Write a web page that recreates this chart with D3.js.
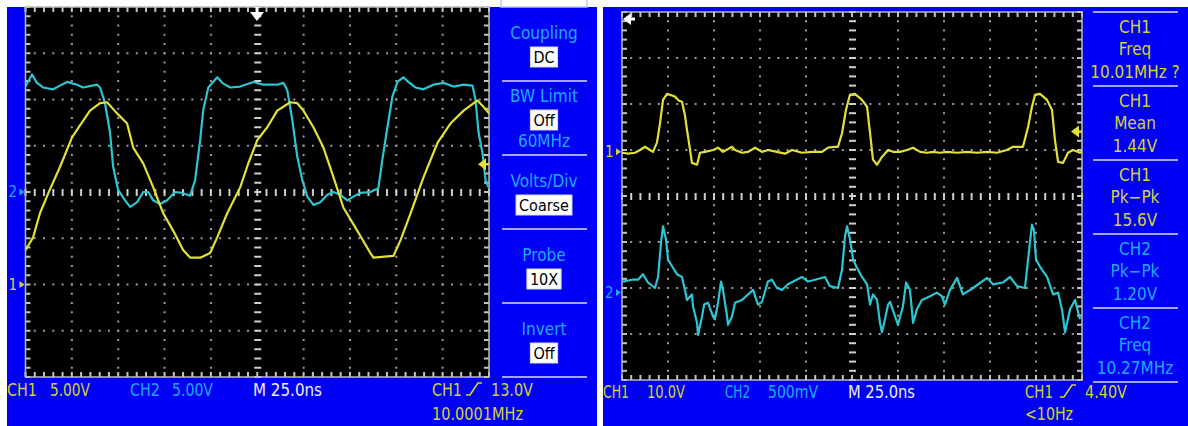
<!DOCTYPE html>
<html>
<head>
<meta charset="utf-8">
<script src="https://cdn.jsdelivr.net/npm/d3@7"></script>
<style>
  html, body { margin: 0; padding: 0; background: #fff; }
  svg { display: block; }
  text { font-family: "Liberation Sans Narrow", "Arial Narrow", "DejaVu Sans Condensed", sans-serif; }
</style>
</head>
<body>
<script>
// ---- data (time in ns, voltage in V) ----

// left screen, M 25.0ns, CH1 5.00V, CH2 5.00V
const leftCh1 = [[0,3.7],[4.1,5.1],[7.8,7.7],[13,10.2],[18.6,12.7],[25.1,15.9],[29.4,17.2],[34.8,18.8],[40.2,19.6],[44.0,19.7],[49.4,18.5],[54.8,17.4],[58.1,14.8],[63.5,13.1],[68.9,10.5],[74.3,7.7],[79.7,5.8],[85.1,3.7],[88.9,2.9],[94.3,2.9],[99.6,3.4],[103.4,5.1],[108.8,7.7],[115.8,10.5],[120,13.0],[125.0,15.6],[130.4,17.0],[135.8,18.8],[142.8,19.7],[146.6,19.6],[149.9,18.8],[155.3,17.0],[160.7,14.8],[166.1,11.6],[171.5,8.3],[179.0,5.8],[186.0,3.4],[187.7,2.9],[198.5,3.1],[202.3,4.8],[207.7,7.7],[214.7,11.6],[222.2,15.3],[229.2,17.4],[236.3,18.8],[243.8,19.9],[247.1,19.2],[250,18.5]];
const leftCh2 = [[0,11.4],[3.5,12.7],[6.2,11.8],[9.5,11.3],[14.9,11.1],[18.6,11.5],[22.4,11.9],[27.8,11.6],[31.1,11.3],[38.6,11.6],[40.2,11.3],[42.9,9.6],[45.6,6.4],[47.3,2.7],[50.0,0.2],[53.7,-0.9],[56.4,-1.6],[60.2,-1.1],[63.5,0],[66.2,0],[68.9,-0.9],[72.6,-1.3],[76.4,-0.9],[80.7,0],[84.5,-0.1],[88.8,-0.4],[91.5,1.3],[94.2,5.6],[95.9,8.9],[98.6,11.3],[103.4,12.4],[106.1,11.8],[110.4,11.3],[115.8,11.4],[122.9,11.9],[128.3,11.6],[135.8,11.6],[139.1,11.8],[141.2,11.0],[143.9,7.8],[146.6,3.8],[149.3,1.3],[152.0,-0.5],[155.3,-1.4],[159.0,-1.1],[162.8,-0.3],[166.0,0],[169.8,-0.3],[173.6,-0.9],[176.8,-0.5],[180.6,-0.1],[186.0,0],[190.3,0.4],[192.5,3.5],[195.2,7.0],[197.9,10.3],[200.6,11.9],[203.8,12.4],[206.5,11.9],[210.3,11.3],[214.6,11.1],[220.0,11.6],[225.5,11.8],[230.9,11.4],[236.3,11.6],[241.1,11.5],[242.7,10.0],[244.4,6.4],[246.5,4.2],[248.1,1.3],[249.8,0.5]];

// right screen, M 25.0ns, CH1 10.0V, CH2 500mV
const rightCh1 = [[0,-0.2],[3.3,-0.4],[7.1,-0.2],[9.8,0.4],[12.5,1.1],[15.2,0.4],[16.8,0],[19.0,2.0],[20.7,6.3],[22.3,11.3],[24.5,12.6],[26.1,12.4],[28.8,12.0],[31.0,11.1],[32.6,10.9],[34.2,8.0],[35.3,4.8],[37.0,0.4],[38.0,-2.4],[40.8,-2.8],[42.4,-0.2],[45.1,0],[49.5,0.4],[52.2,0.9],[54.9,0],[59.8,1.1],[61.4,0.4],[65.2,-0.2],[68.5,0],[72.3,0.9],[76.1,0],[79.3,0.4],[84.2,0],[88.6,-0.4],[92.4,0.4],[97.8,-0.2],[103.3,0],[108.7,0],[112.0,0.9],[115.8,1.1],[117.4,1.1],[119.6,4.1],[121.7,9.1],[123.9,12.4],[126.6,12.6],[130.4,11.3],[133.2,9.8],[134.8,4.1],[136.4,-1.7],[138.6,-2.8],[141.3,-1.1],[144.6,0.4],[147.3,0],[151.1,0],[154.9,0.4],[158.2,0.9],[162.0,0],[165.8,-0.2],[169.0,0],[172.8,-0.2],[176.6,0],[182.1,-0.2],[187.5,0],[192.9,-0.2],[198.4,0],[203.8,-0.2],[209.2,0.4],[212.5,1.1],[216.3,1.1],[217.9,1.1],[220.7,5.4],[222.8,9.8],[224.5,12.4],[227.2,12.6],[231.0,11.3],[233.7,9.1],[235.3,2.6],[237.0,-2.2],[239.7,-2.4],[242.4,-0.2],[245.1,0.4],[248.9,-0.2],[250,0]];
const rightCh2 = [[0.5,0.12],[5.4,0.14],[8.7,0.14],[11.4,0.20],[14.1,0.11],[17.9,0.05],[19.6,0.17],[21.2,0.54],[22.3,0.72],[23.9,0.58],[25.0,0.36],[27.7,0.27],[29.9,0.20],[32.6,0.17],[34.2,0.03],[35.3,-0.08],[38.0,-0.02],[38.6,-0.15],[40.8,-0.33],[41.3,-0.46],[43.5,-0.26],[44.6,-0.13],[46.7,-0.11],[49.5,-0.26],[50.5,-0.29],[52.2,-0.11],[53.8,0.12],[54.9,0.03],[57.1,-0.26],[57.6,-0.35],[59.8,-0.26],[61.4,-0.11],[65.2,-0.08],[69.6,0],[71.2,0.03],[73.9,-0.13],[76.1,-0.10],[79.3,0.12],[81.5,0.14],[84.2,0.05],[87.0,0.03],[90.2,0.09],[97.8,0.17],[101.1,0.12],[104.9,0.14],[110.3,0.17],[113.0,0.07],[117.4,0.05],[119.6,0.25],[121.2,0.61],[122.3,0.72],[123.9,0.58],[125.6,0.36],[127.7,0.27],[130.4,0.17],[133.2,0.09],[134.8,-0.13],[136.4,-0.02],[138.6,-0.08],[140.2,-0.33],[141.3,-0.43],[142.9,-0.29],[144.6,-0.13],[145.7,-0.10],[148.4,-0.26],[150.0,-0.35],[152.7,-0.15],[154.4,0.11],[156.5,0.03],[158.2,-0.33],[160.3,-0.18],[163.0,-0.08],[167.4,-0.04],[171.2,0],[173.9,-0.04],[175.5,-0.13],[178.3,0.03],[182.1,0.16],[185.3,-0.02],[190.8,0.05],[198.4,0.16],[201.6,0.09],[207.1,0.11],[210.9,0.17],[214.7,0.07],[219.0,0.05],[220.7,0.36],[222.8,0.74],[223.9,0.68],[225.0,0.36],[227.2,0.28],[231.0,0.17],[234.3,-0.02],[237.0,0],[239.1,-0.18],[240.8,-0.43],[243.5,-0.18],[246.2,-0.08],[248.9,-0.29]];

const leftTriggerLevel = 13.0;
const rightTriggerLevel = 4.40;

// menu and readout texts
const leftMenuTitles = ['Coupling', 'BW Limit', 'Volts/Div', 'Probe', 'Invert'];
const leftMenuValues = ['DC', 'Off', 'Coarse', '10X', 'Off'];
const leftMenuNotes = ['', '60MHz', '', '', ''];

const rightMeasSources = ['CH1', 'CH1', 'CH1', 'CH2', 'CH2'];
const rightMeasNames = ['Freq', 'Mean', 'Pk\u2212Pk', 'Pk\u2212Pk', 'Freq'];
const rightMeasValues = ['10.01MHz ?', '1.44V', '15.6V', '1.20V', '10.27MHz'];

const leftReadout = ['CH1', '5.00V', 'CH2', '5.00V', 'M 25.0ns', 'CH1', '13.0V', '10.0001MHz'];
const rightReadout = ['CH1', '10.0V', 'CH2', '500mV', 'M 25.0ns', 'CH1', '4.40V', '<10Hz'];

// ---- colours ----
const BLUE = '#0000f4';
const YEL_TXT = '#d6d23a';
const CYA_TXT = '#1eaaff';
const WHT_TXT = '#eeeeee';
const YEL_TR = '#e4e03a';
const CYA_TR = '#2cc6d2';

const svg = d3.select('body').append('svg')
    .attr('width', 1188)
    .attr('height', 426);

function addText(g, x, y, str, color, size, opts) {
    opts = opts || {};
    const t = g.append('text')
        .attr('x', x)
        .attr('y', y)
        .attr('fill', color)
        .attr('font-size', size)
        .text(str);
    if (opts.anchor) t.attr('text-anchor', opts.anchor);
    if (opts.len) t.attr('textLength', opts.len).attr('lengthAdjust', 'spacingAndGlyphs');
    return t;
}

function slope(g, x, base) {
    g.append('path')
        .attr('d', `M${x},${base} h4 l8,-12 h4`)
        .attr('fill', 'none')
        .attr('stroke', YEL_TXT)
        .attr('stroke-width', 1.6);
}

function drawScope(cfg) {
    const g = svg.append('g');
    const [fx, fy, fw, fh] = cfg.frame;
    g.append('rect').attr('x', fx).attr('y', fy).attr('width', fw).attr('height', fh).attr('fill', BLUE);

    const [x0, y0, x1, y1] = cfg.screen;
    g.append('rect').attr('x', x0).attr('y', y0).attr('width', x1 - x0).attr('height', y1 - y0).attr('fill', '#000');

    // graticule: 10 x 8 divisions, 5 minor steps each
    const xDiv = d3.scaleLinear().domain([0, 10]).range([x0, x1]);
    const yDiv = d3.scaleLinear().domain([-4, 4]).range([y1, y0]);
    const xMinor = d3.range(0, 51).map(i => i / 5);
    const yMinor = d3.range(-20, 21).map(i => i / 5);

    const grid = g.append('g');
    d3.range(1, 10).filter(d => d !== 5).forEach(d => {
        grid.selectAll(null).data(yMinor.slice(1, -1)).enter().append('rect')
            .attr('x', xDiv(d) - 1).attr('y', v => yDiv(v) - 1)
            .attr('width', 2).attr('height', 2).attr('fill', '#9c9c9c');
    });
    d3.range(-3, 4).filter(d => d !== 0).forEach(d => {
        grid.selectAll(null).data(xMinor.slice(1, -1)).enter().append('rect')
            .attr('x', v => xDiv(v) - 1).attr('y', yDiv(d) - 1)
            .attr('width', 2).attr('height', 2).attr('fill', '#9c9c9c');
    });

    // centre cross with minor ticks
    grid.selectAll(null).data(yMinor).enter().append('rect')
        .attr('x', xDiv(5) - 3).attr('y', v => yDiv(v) - 1)
        .attr('width', 7).attr('height', 2).attr('fill', '#cfcfcf');
    grid.selectAll(null).data(xMinor).enter().append('rect')
        .attr('x', v => xDiv(v) - 1).attr('y', yDiv(0) - 3)
        .attr('width', 2).attr('height', 7).attr('fill', '#cfcfcf');

    // border ticks
    grid.selectAll(null).data(xMinor).enter().append('rect')
        .attr('x', v => xDiv(v) - 1).attr('y', y0).attr('width', 2).attr('height', 5).attr('fill', '#c4c4c4');
    grid.selectAll(null).data(xMinor).enter().append('rect')
        .attr('x', v => xDiv(v) - 1).attr('y', y1 - 5).attr('width', 2).attr('height', 5).attr('fill', '#c4c4c4');
    grid.selectAll(null).data(yMinor).enter().append('rect')
        .attr('x', x0).attr('y', v => yDiv(v) - 1).attr('width', 5).attr('height', 2).attr('fill', '#c4c4c4');
    grid.selectAll(null).data(yMinor).enter().append('rect')
        .attr('x', x1 - 5).attr('y', v => yDiv(v) - 1).attr('width', 5).attr('height', 2).attr('fill', '#c4c4c4');
    grid.append('rect')
        .attr('x', x0).attr('y', y0).attr('width', x1 - x0).attr('height', y1 - y0)
        .attr('fill', 'none').attr('stroke', '#bdbdbd').attr('stroke-width', 1.5);

    // traces
    const clipId = cfg.id + '-clip';
    g.append('clipPath').attr('id', clipId).append('rect')
        .attr('x', x0).attr('y', y0).attr('width', x1 - x0).attr('height', y1 - y0);

    const xTime = d3.scaleLinear().domain([0, 10 * cfg.nsPerDiv]).range([x0, x1]);

    cfg.channels.forEach(ch => {
        const yV = d3.scaleLinear()
            .domain([(-4 - ch.offset) * ch.vPerDiv, (4 - ch.offset) * ch.vPerDiv])
            .range([y1, y0]);
        ch.scale = yV;

        g.append('path')
            .datum(ch.data)
            .attr('d', d3.line().x(d => xTime(d[0])).y(d => yV(d[1])))
            .attr('fill', 'none')
            .attr('stroke', ch.color)
            .attr('stroke-width', 2.2)
            .attr('stroke-linejoin', 'round')
            .attr('clip-path', `url(#${clipId})`);

        // ground level marker at the left edge
        const gy = yV(0);
        addText(g, x0 - 17, gy + 5, ch.label, ch.textColor, 15);
        g.append('path')
            .attr('d', `M${x0 - 6},${gy - 3.5} L${x0 - 1},${gy} L${x0 - 6},${gy + 3.5} Z`)
            .attr('fill', ch.textColor);
    });

    // trigger level marker on the right edge
    const trigY = cfg.channels.find(c => c.label === '1').scale(cfg.trigger);
    g.append('path')
        .attr('d', `M${x1 - 11},${trigY} L${x1 - 3},${trigY - 6} L${x1 - 3},${trigY + 6} Z`)
        .attr('fill', YEL_TR);
    g.append('rect').attr('x', x1 - 4).attr('y', trigY - 1).attr('width', 4).attr('height', 2).attr('fill', YEL_TR);

    return g;
}

// ---------------- left scope ----------------
const left = drawScope({
    id: 'left',
    frame: [7, 7, 590, 419],
    screen: [25.5, 7, 489, 377],
    nsPerDiv: 25,
    trigger: leftTriggerLevel,
    channels: [
        { label: '2', data: leftCh2, vPerDiv: 5, offset: 0, color: CYA_TR, textColor: CYA_TXT },
        { label: '1', data: leftCh1, vPerDiv: 5, offset: -2, color: YEL_TR, textColor: YEL_TXT }
    ]
});

// trigger position arrow at the top centre
left.append('rect').attr('x', 255.5).attr('y', 7).attr('width', 3).attr('height', 6).attr('fill', '#fff');
left.append('path').attr('d', 'M250,12 L264,12 L257,21 Z').attr('fill', '#fff');

// side menu
left.append('rect').attr('x', 501).attr('y', -4).attr('width', 86).attr('height', 11)
    .attr('fill', '#fff').attr('stroke', '#c4c4dc').attr('stroke-width', 1.5);

const menuTop = [7, 81, 155, 229, 303];
leftMenuTitles.forEach((title, i) => {
    const top = menuTop[i];
    const three = leftMenuNotes[i] !== '';
    addText(left, 544, top + (three ? 21 : 32), title, CYA_TXT, 17, { anchor: 'middle' });
    const by = top + (three ? 29 : 40);
    const vt = addText(left, 544, by + 16, leftMenuValues[i], '#000', 16, { anchor: 'middle' });
    const w = vt.node().getComputedTextLength() + 6;
    left.insert('rect', () => vt.node())
        .attr('x', 544 - w / 2).attr('y', by).attr('width', w).attr('height', 20)
        .attr('fill', '#fff').attr('stroke', '#d8d8d8').attr('stroke-width', 1);
    if (three) addText(left, 544, top + 66, leftMenuNotes[i], CYA_TXT, 17, { anchor: 'middle' });
    left.append('line').attr('x1', 502).attr('x2', 587).attr('y1', top + 74).attr('y2', top + 74)
        .attr('stroke', '#a4a4ff').attr('stroke-width', 2);
});

// readout bar
const leftPos = [[7, 396, 30, YEL_TXT], [50, 396, 40, YEL_TXT], [130, 396, 30, CYA_TXT], [172, 396, 41, CYA_TXT],
                 [253, 396, 69, WHT_TXT], [432, 396, 30, YEL_TXT], [491, 396, 42, YEL_TXT], [432, 420, 91, YEL_TXT]];
leftReadout.forEach((s, i) => {
    const p = leftPos[i];
    addText(left, p[0], p[1], s, p[3], 17, { len: p[2] });
});
slope(left, 466, 395);

// ---------------- right scope ----------------
const right = drawScope({
    id: 'right',
    frame: [603, 7, 585, 419],
    screen: [622, 12, 1082, 380],
    nsPerDiv: 25,
    trigger: rightTriggerLevel,
    channels: [
        { label: '1', data: rightCh1, vPerDiv: 10, offset: 0.96, color: YEL_TR, textColor: YEL_TXT },
        { label: '2', data: rightCh2, vPerDiv: 0.5, offset: -2.1, color: CYA_TR, textColor: CYA_TXT }
    ]
});

// trigger position arrow (pointing left, top-left corner)
right.append('path').attr('d', 'M623,19 L631,13 L631,25 Z').attr('fill', '#fff');
right.append('rect').attr('x', 630).attr('y', 17.5).attr('width', 5).attr('height', 3).attr('fill', '#fff');

// measurement panel
const measTop = [12, 86, 160, 234, 308];
right.append('line').attr('x1', 1093).attr('x2', 1178).attr('y1', 12).attr('y2', 12)
    .attr('stroke', '#a4a4ff').attr('stroke-width', 2);
rightMeasSources.forEach((src, i) => {
    const top = measTop[i];
    const c = src === 'CH1' ? YEL_TXT : CYA_TXT;
    addText(right, 1135, top + 21, src, c, 17, { anchor: 'middle' });
    addText(right, 1135, top + 43, rightMeasNames[i], c, 17, { anchor: 'middle' });
    addText(right, 1135, top + 66, rightMeasValues[i], c, 17, { anchor: 'middle' });
    right.append('line').attr('x1', 1093).attr('x2', 1178).attr('y1', top + 74).attr('y2', top + 74)
        .attr('stroke', '#a4a4ff').attr('stroke-width', 2);
});

// readout bar
const rightPos = [[603, 398, 26, YEL_TXT], [647, 398, 38, YEL_TXT], [725, 398, 25, CYA_TXT], [768, 398, 50, CYA_TXT],
                  [848, 398, 67, WHT_TXT], [1025, 398, 28, YEL_TXT], [1085, 398, 42, YEL_TXT], [1025, 420, 48, YEL_TXT]];
rightReadout.forEach((s, i) => {
    const p = rightPos[i];
    addText(right, p[0], p[1], s, p[3], 17, { len: p[2] });
});
slope(right, 1060, 397);
</script>
</body>
</html>
